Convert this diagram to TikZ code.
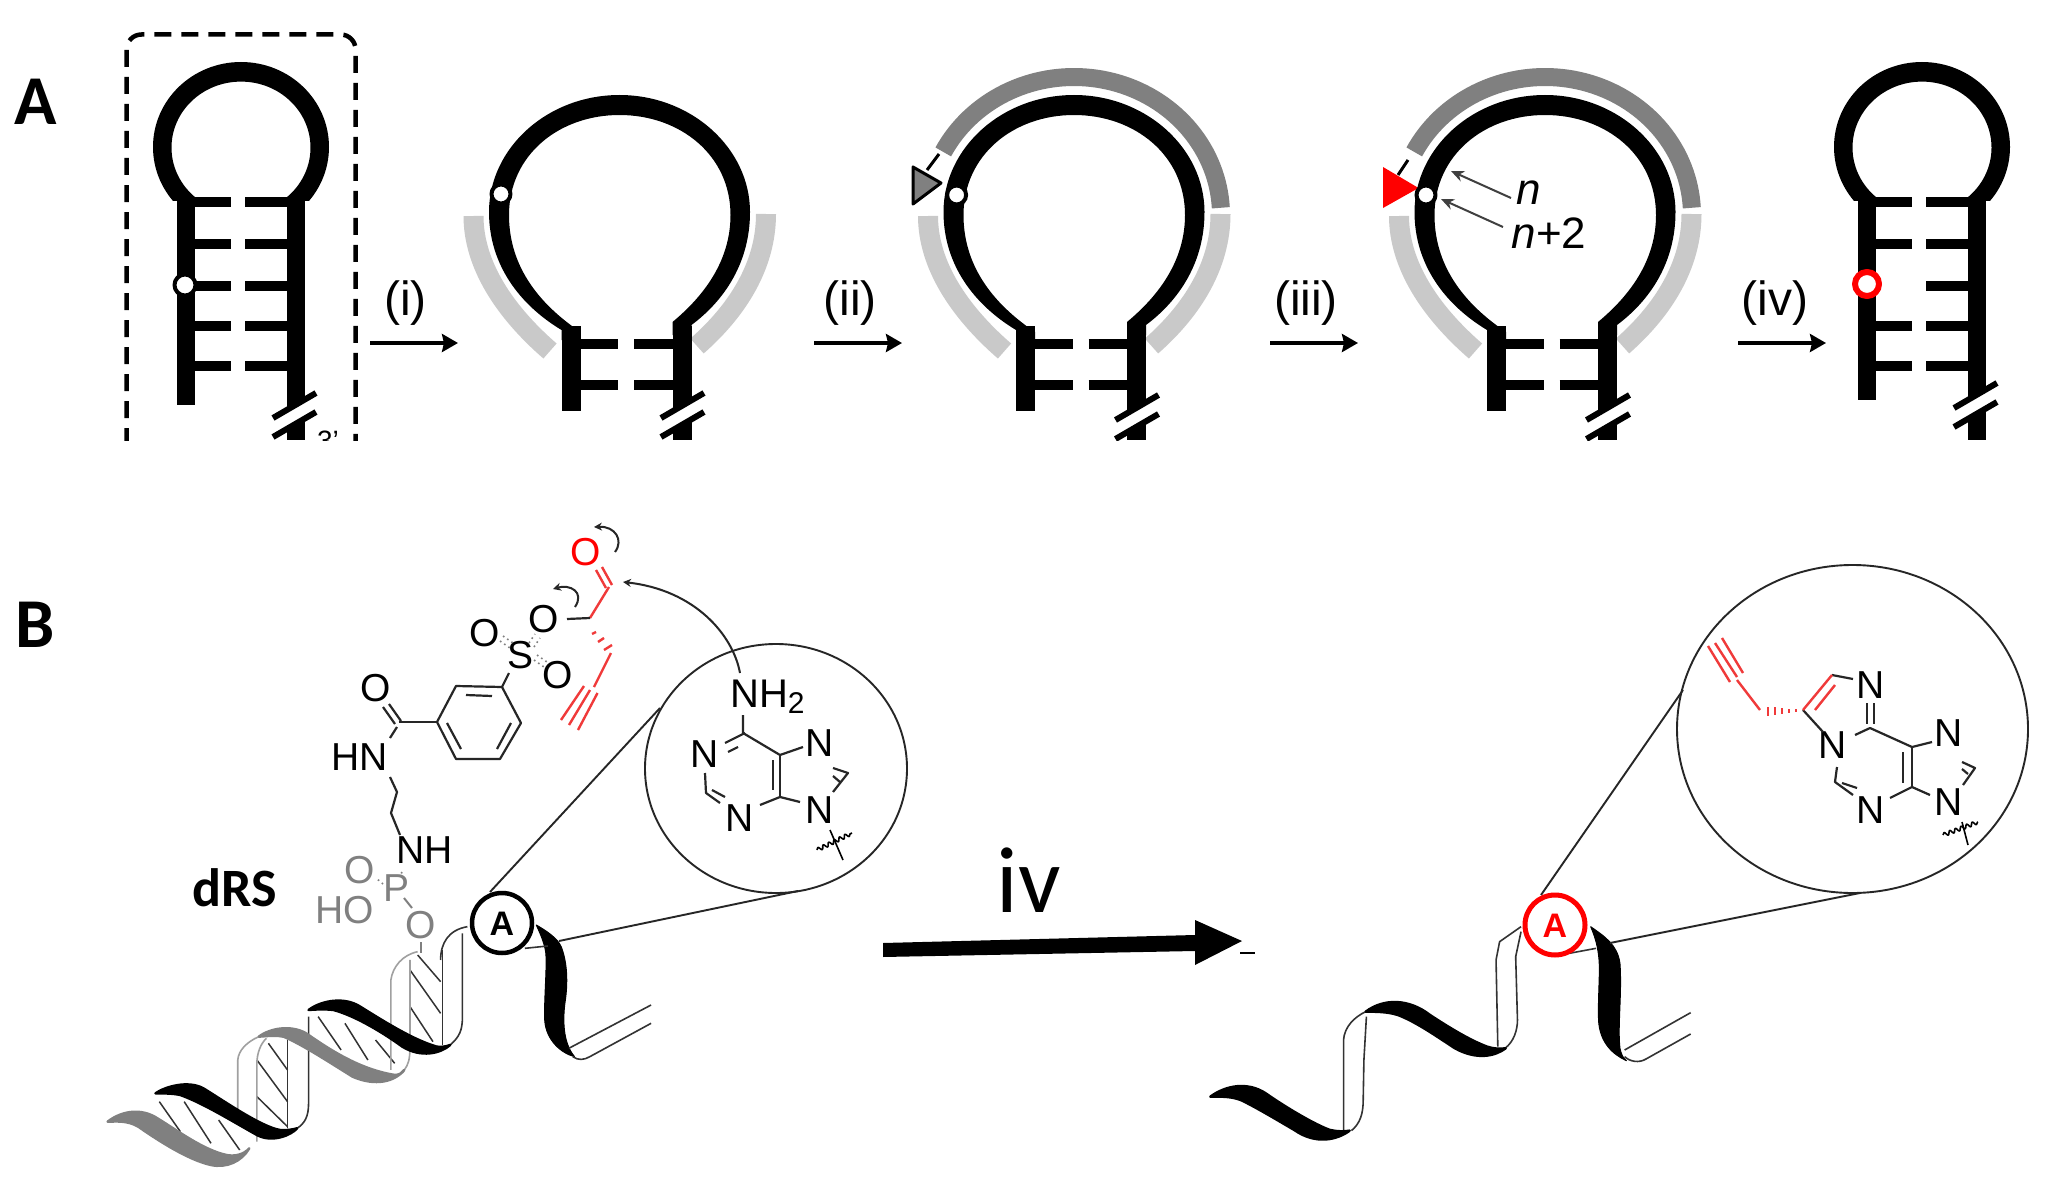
\documentclass[tikz,border=0pt]{standalone}
\usepackage{fontspec}
\setmainfont{Liberation Sans}
\newfontfamily\carlitofont{Carlito}
\usetikzlibrary{arrows.meta,decorations.pathmorphing}
\definecolor{palegray}{HTML}{C9C9C9}
\definecolor{darkgray2}{HTML}{808080}
\definecolor{strandgray}{HTML}{A0A0A0}
\definecolor{chemred}{HTML}{F03A3A}
\newcommand{\fsz}[1]{\fontsize{#1}{#1}\selectfont}
% small hairpin drawn at the position of the first one
\newcommand{\smallhp}{%
  \begin{scope}
    \clip (140,40) rectangle (340,200);
    \fill[even odd rule] (241,147) ellipse [x radius=88pt,y radius=85pt]
                         (241,147.6) ellipse [x radius=69.5pt,y radius=66pt];
  \end{scope}
  \fill (177,198) rectangle (195,405);
  \fill (287,198) rectangle (305,440);
  \foreach \yy in {202,244,326,366}{\draw[rung] (190,\yy) -- (231,\yy); \draw[rung] (245,\yy) -- (292,\yy);}
  \draw[rung] (245,286) -- (292,286);
}
% large hairpin drawn at the position of the second one
\newcommand{\largehp}{%
  \fill (561.5,330) .. controls (520,305) and (489,265) .. (489,212)
     .. controls (489,148) and (547.5,95) .. (619.5,95)
     .. controls (691,95) and (750,148) .. (750,212)
     .. controls (750,262) and (725,300) .. (691.5,325)
     -- (691.5,335) -- (672.5,335) -- (672.5,322)
     .. controls (705,295) and (730.5,260) .. (730.5,215)
     .. controls (730.5,155) and (680,115) .. (619.5,115)
     .. controls (559,115) and (509,155) .. (509,215)
     .. controls (509,258) and (530,298) .. (580.5,332) -- (580.5,340) -- (561.5,340) -- cycle;
  \fill (561.5,326) rectangle (580.5,411);
  \fill (672.5,326) rectangle (691.5,440);
  \foreach \yy in {344,385}{\draw[rung] (578,\yy) -- (618,\yy); \draw[rung] (634,\yy) -- (675,\yy);}
}
\newcommand{\palearcs}{%
  \draw[palearc] (473.5,216) .. controls (473.5,265) and (505,312) .. (550,351);
  \draw[palearc] (766,214) .. controls (766,265) and (738,310) .. (697,346);
}
% break mark: two slashes with a white gap, given at the first position
\newcommand{\breakmark}{%
  \draw[line width=13pt,white] (273,427) -- (316,402);
  \draw[line width=6pt] (273,418) -- (316,393);
  \draw[line width=6pt] (273,437) -- (316,412);
}
\newcommand{\darkarc}{%
  \draw[line width=18pt,darkgray2] plot[domain=-3:-152.8,samples=70] ({1074+147*cos(\x)},{215+138*sin(\x)});
}
\begin{document}
\begin{tikzpicture}[x=1pt,y=-1pt,line join=round,
  rung/.style={line width=9.5pt},
  palearc/.style={line width=20pt,palegray},
  stepa/.style={line width=4pt,-{Stealth[length=16pt,width=18pt,inset=2pt]}},
  steplab/.style={inner sep=0pt,font=\fsz{48}},
  panel/.style={inner sep=0pt,font=\carlitofont\bfseries\fsz{70}},
  bond/.style={line width=2.2pt,black!85},
  redbond/.style={line width=2.4pt,chemred},
  dots/.style={line width=1.6pt,dash pattern=on 1.6pt off 3.5pt,darkgray2},
  atm/.style={inner sep=0pt,font=\fsz{39}},
  grayatm/.style={atm,text=darkgray2},
  lens/.style={line width=1.9pt,black!85},
  thin strand/.style={line width=1.6pt,black!80},
  gray strand/.style={line width=1.6pt,strandgray},
  hatch/.style={line width=1.5pt,black!80},
  ribbon/.style={line width=2.5pt,draw=black,fill=black},
  gray ribbon/.style={line width=2.5pt,draw=darkgray2,fill=darkgray2},
  wavy/.style={line width=1.6pt,decorate,decoration={snake,amplitude=2pt,segment length=6pt}},
  curvy/.style={line width=2pt,black!85,-{Stealth[length=8pt,width=8pt]}},
  ring/.style={fill=white,draw=black,line width=4pt}]
\useasboundingbox (0,0) rectangle (2046,1180);
\fill[white] (0,0) rectangle (2046,1180);

% ---------- panel A ----------
\node[panel] (labA) at (36,102) {A};
\begin{scope}
\clip (0,0) rectangle (2046,440);
\draw[line width=4.5pt,dash pattern=on 17pt off 10pt,rounded corners=15pt]
   (126.5,445) -- (126.5,34.5) -- (355.6,34.5) -- (355.6,445);
\node[inner sep=0pt,anchor=north,font=\fsz{28}] (tail) at (328,431) {3'};
% hairpin 1
\smallhp
\draw[rung] (190,286) -- (231,286);
\breakmark
\draw[ring] (185,285) circle[radius=10.5pt];
% hairpin 2
\palearcs
\largehp
\begin{scope}[shift={(388,0)}]\breakmark\end{scope}
\draw[ring] (501,194) circle[radius=9.5pt];
% hairpin 3
\begin{scope}[shift={(454.5,0)}]
  \palearcs \largehp
  \begin{scope}[shift={(388,2)}]\breakmark\end{scope}
\end{scope}
\darkarc
\draw[line width=3pt] (939,154) -- (927,170);
\draw[line width=3pt,fill=darkgray2] (913,167) -- (941,183) -- (913,204) -- cycle;
\draw[ring] (956.6,195) circle[radius=9.5pt];
% hairpin 4
\begin{scope}[shift={(925.5,0)}]
  \palearcs \largehp
  \begin{scope}[shift={(388,2)}]\breakmark\end{scope}
\end{scope}
\begin{scope}[shift={(471,0)}]\darkarc\end{scope}
\draw[line width=3pt] (1408,160) -- (1398,175);
\fill[red] (1383,167) -- (1418.5,188) -- (1383,208) -- cycle;
\draw[ring] (1426,195) circle[radius=9.5pt];
\draw[line width=2pt,black!75,-{Stealth[length=13pt,width=11pt]}] (1511,198) -- (1451,171);
\draw[line width=2pt,black!75,-{Stealth[length=13pt,width=11pt]}] (1503,227) -- (1441,199);
\node[inner sep=0pt,font=\fsz{44}\itshape] (labn) at (1529,193) {n};
\node[inner sep=0pt,font=\fsz{44}] (labn2) at (1549,233) {\textit{n}+2};
% hairpin 5
\begin{scope}[shift={(1681,0)}]
  \smallhp
  \fill[white] (177,400) rectangle (195,406);
  \begin{scope}[shift={(0,-10)}]\breakmark\end{scope}
\end{scope}
\draw[white,fill=white] (1867,284) circle[radius=10pt];
\draw[red,line width=6pt,fill=white] (1867,284) circle[radius=12pt];
\end{scope}
% step arrows
\draw[stepa] (370,343) -- (458,343);
\node[steplab] (s1) at (405.6,303) {(i)};
\draw[stepa] (814,343) -- (902,343);
\node[steplab] (s2) at (850,303) {(ii)};
\draw[stepa] (1270,343) -- (1358,343);
\node[steplab] (s3) at (1306,303) {(iii)};
\draw[stepa] (1738,343) -- (1826,343);
\node[steplab] (s4) at (1775,303) {(iv)};

% ---------- panel B labels ----------
\node[panel] (labB) at (35,625) {B};
\node[inner sep=0pt,font=\carlitofont\bfseries\fsz{54}] (drs) at (235,888) {dRS};
\node[inner sep=0pt,font=\carlitofont\fsz{94}] (iv) at (1029,880) {iv};

% big arrow
\fill (883,943) -- (1195,935) -- (1195,920) -- (1242,941) -- (1195,965) -- (1195,951) -- (883,957) -- cycle;
\draw[line width=2pt] (1240,953) -- (1255,953);

% ---------- helix 1 (coordinates of the enlarged crop) ----------
\begin{scope}[shift={(100,860)},x=0.3827pt,y=-0.3333pt]
 % hatches
 \foreach \a/\b/\c/\d in {155/725/210/815,220/725/290/850,310/780/365/870,410/600/490/725,410/710/490/800,440/550/490/630,570/470/630/570,640/490/700/600,720/540/770/610,810/330/890/460,810/440/870/545,830/285/890/365}
   \draw[hatch] (\a,\b) -- (\c,\d);
 % strands
 \draw[gray strand] (360,780) -- (360,600) .. controls (362,570) and (385,545) .. (415,530);
 \draw[gray strand] (410,845) -- (410,610) .. controls (410,580) and (420,550) .. (435,535);
 \draw[thin strand] (490,805) -- (490,540);
 \draw[thin strand] (515,805) .. controls (535,790) and (545,770) .. (545,730) -- (545,470);
 \draw[gray strand] (760,630) -- (760,360) .. controls (765,320) and (790,285) .. (830,275);
 \draw[gray strand] (795,630) .. controls (805,615) and (810,600) .. (810,560) -- (810,300);
 \draw[thin strand] (895,555) -- (895,270);
 \draw[thin strand] (890,300) .. controls (890,250) and (910,210) .. (960,200);
 \draw[thin strand] (915,555) .. controls (940,530) and (947,510) .. (947,470) -- (947,220);
 % ribbons
 \path[gray ribbon] (20,785) .. controls (60,750) and (110,745) .. (150,775) .. controls (200,810) and (270,870) .. (330,885) .. controls (350,890) and (375,885) .. (390,865) .. controls (370,905) and (330,925) .. (290,915) .. controls (230,900) and (150,840) .. (100,800) .. controls (70,780) and (40,785) .. (20,785) -- cycle;
 \path[ribbon] (145,700) .. controls (170,680) and (230,660) .. (270,685) .. controls (320,720) and (420,800) .. (470,810) .. controls (490,812) and (505,808) .. (515,805) .. controls (500,825) and (450,850) .. (410,825) .. controls (340,780) and (270,730) .. (210,705) .. controls (190,700) and (165,700) .. (145,700) -- cycle;
 \path[gray ribbon] (415,530) .. controls (450,500) and (510,495) .. (545,525) .. controls (620,585) and (690,630) .. (770,645) .. controls (780,645) and (790,640) .. (795,630) .. controls (770,665) and (720,680) .. (660,650) .. controls (590,600) and (530,555) .. (480,530) .. controls (460,525) and (440,528) .. (415,530) -- cycle;
 \path[ribbon] (545,450) .. controls (580,420) and (640,410) .. (680,440) .. controls (750,490) and (820,540) .. (880,560) .. controls (890,562) and (905,560) .. (915,555) .. controls (890,580) and (840,595) .. (790,560) .. controls (730,510) and (660,465) .. (610,450) .. controls (590,447) and (565,448) .. (545,450) -- cycle;
 \path[ribbon,line width=1pt] (1140,195) .. controls (1170,215) and (1195,235) .. (1205,260) .. controls (1222,310) and (1222,370) .. (1216,420) .. controls (1208,480) and (1210,550) .. (1240,590) .. controls (1205,580) and (1165,540) .. (1162,480) .. controls (1160,420) and (1168,330) .. (1165,280) .. controls (1162,250) and (1150,220) .. (1140,195) -- cycle;
 \draw[thin strand] (1110,265) -- (1170,258);
 \draw[thin strand] (1225,565) -- (1440,435);
 \draw[thin strand] (1235,590) .. controls (1250,602) and (1265,600) .. (1280,590) -- (1440,490);
\end{scope}

% ---------- lens 1 ----------
\draw[lens] (776,768.5) ellipse [x radius=131pt,y radius=124.5pt];
\draw[lens] (490,892) -- (660,708);
\draw[lens] (559,941) -- (798,891);

% A circle 1
\draw[line width=4.5pt,fill=white] (502,923) circle[radius=30pt];
\node[inner sep=0pt,font=\bfseries\fsz{34}] (a1) at (502,924) {A};

% ---------- tagged reagent ----------
\node[atm,text=red] (oRed) at (586,552) {O};
\node[atm] (oEst) at (544,619) {O};
\node[atm] (sAtm) at (521,655) {S};
\node[atm] (oSa) at (485,633) {O};
\node[atm] (oSb) at (558,675) {O};
\node[atm] (oAm) at (375.5,688) {O};
\node[atm] (hn) at (359.5,757) {HN};
\node[atm] (nh) at (424.5,850) {NH};
\node[grayatm] (pAtm) at (396.6,888) {P};
\node[grayatm] (oPa) at (360,870) {O};
\node[grayatm] (ho) at (345,910) {HO};
\node[grayatm] (oPb) at (420.7,925) {O};

\draw[redbond] (596,570) -- (606,588);
\draw[redbond] (602,567) -- (612,585);
\draw[redbond] (609,587) -- (590,618);
\draw[bond] (567,619) -- (590,618);
\draw[redbond] (592,634) -- (596,632) (598,642) -- (604,638) (604,650) -- (612,645);
\draw[redbond] (611,653) -- (594,687);
\draw[redbond] (584,686) -- (561,720) (590,690) -- (569,725) (597.5,693) -- (578,730);
\draw[dots] (500,641) -- (510,648) (503,636) -- (513,643);
\draw[dots] (529,643) -- (535,634) (534,647) -- (540,638);
\draw[dots] (534,660) -- (544,667) (537,655) -- (547,662);
\draw[bond] (509,673) -- (502,687);
\draw[bond] (502,687) -- (456,686) -- (437,722) -- (456,759) -- (500,759) -- (521,723) -- cycle;
\draw[bond] (466,695) -- (492,696) (447,723) -- (461,749) (511,723) -- (497,749);
\draw[bond] (398.5,722) -- (437,722);
\draw[bond] (383,707) -- (395,724) (389,704) -- (401,721);
\draw[bond] (397,727) -- (390,738);
\draw[bond] (390,777) -- (397,792) -- (391,813) -- (400,835);
\draw[dots] (383,884) -- (376,878);
\draw[dots] (402,872) -- (400,876);
\draw[line width=2pt,darkgray2] (404,898) -- (412,908);
\draw[line width=2pt,darkgray2] (420.7,942) -- (420.7,953);
\draw[curvy] (615,552) .. controls (624,540) and (615,526) .. (594,527);
\draw[curvy] (575,607) .. controls (585,592) and (570,584) .. (553,589);
\draw[curvy] (740,673) .. controls (733,635) and (695,590) .. (623,582);

% ---------- adenine 1 ----------
\node[atm,anchor=west] (nh2) at (730,697) {\fsz{40}NH\raisebox{-6pt}{\fsz{30}2}};
\node[atm] (na1) at (705,754) {N};
\node[atm] (na3) at (740,818) {N};
\node[atm] (na7) at (820,743) {N};
\node[atm] (na9) at (820,810) {N};
\draw[bond] (743,715) -- (743,733) (745,733) -- (725,743) (738,747) -- (728,752);
\draw[bond] (743,733) -- (780,755) -- (803,747);
\draw[bond] (780,755) -- (780,797) (773,760) -- (773,790);
\draw[bond] (780,797) -- (760,805) (780,797) -- (800,802);
\draw[bond] (705,773) -- (706,793) -- (720,803) (712,790) -- (725,797);
\draw[bond] (833,768) -- (848,773) -- (833,792) (833,776) -- (840,782);
\draw[wavy] (817,850) -- (852,833);
\draw[line width=1.6pt] (830,830) -- (843,860);

% ---------- helix 2 ----------
\begin{scope}[shift={(1180,860)},x=0.3571pt,y=-0.3333pt]
 \draw[thin strand] (458,810) -- (458,540) .. controls (460,500) and (490,470) .. (520,455);
 \draw[thin strand] (480,812) .. controls (505,790) and (513,760) .. (513,720) -- (515,600) -- (522,470);
 \draw[thin strand] (890,560) -- (885,300) -- (895,245) -- (955,200);
 \draw[thin strand] (910,565) .. controls (935,545) and (945,510) .. (945,480) -- (940,290) -- (955,215);
 \path[ribbon] (85,710) .. controls (130,675) and (190,665) .. (240,700) .. controls (300,745) and (380,795) .. (420,810) .. controls (440,815) and (460,815) .. (475,812) .. controls (440,840) and (380,855) .. (320,810) .. controls (280,785) and (210,740) .. (170,720) .. controls (140,708) and (110,710) .. (85,710) -- cycle;
 \path[ribbon] (520,455) .. controls (570,415) and (640,415) .. (700,465) .. controls (750,500) and (810,540) .. (860,560) .. controls (880,567) and (895,567) .. (912,565) .. controls (880,590) and (830,600) .. (770,565) .. controls (720,530) and (660,485) .. (610,465) .. controls (580,455) and (550,455) .. (520,455) -- cycle;
 \path[ribbon,line width=1pt] (1150,200) .. controls (1190,230) and (1225,255) .. (1232,310) .. controls (1238,400) and (1225,500) .. (1232,565) .. controls (1235,580) and (1240,595) .. (1250,602) .. controls (1215,585) and (1175,550) .. (1172,480) .. controls (1170,400) and (1178,330) .. (1172,285) .. controls (1168,250) and (1160,225) .. (1150,200) -- cycle;
 \draw[thin strand] (1090,280) -- (1165,265);
 \draw[thin strand] (1245,570) -- (1430,458);
 \draw[thin strand] (1245,590) .. controls (1260,605) and (1285,610) .. (1305,597) -- (1430,522);
\end{scope}

% ---------- lens 2 ----------
\draw[lens] (1852.5,729) ellipse [x radius=175.5pt,y radius=164pt];
\draw[lens] (1541,895) -- (1683,690);
\draw[lens] (1610,943) -- (1860,893);
\draw[red,line width=5pt,fill=white] (1555,925) circle[radius=30pt];
\node[inner sep=0pt,text=red,font=\bfseries\fsz{34}] (a2) at (1555,926) {A};

% ---------- modified adenine ----------
\node[atm] (nb1) at (1871,685) {N};
\node[atm] (nb2) at (1833,745) {N};
\node[atm] (nb3) at (1871,810) {N};
\node[atm] (nb7) at (1949,733) {N};
\node[atm] (nb9) at (1949,802) {N};
\draw[bond] (1867,703) -- (1867,724) (1874,703) -- (1874,724);
\draw[bond] (1855,735) -- (1870,728) -- (1912,747) -- (1932,742);
\draw[bond] (1912,747) -- (1912,787) (1903,752) -- (1903,783);
\draw[bond] (1890,798) -- (1912,787) -- (1930,795);
\draw[bond] (1837,767) -- (1835,782) -- (1853,795) (1842,783) -- (1857,788);
\draw[bond] (1962,762) -- (1975,768) -- (1963,785) (1962,769) -- (1968,774);
\draw[bond] (1853,679) -- (1832,675);
\draw[bond] (1803,710) -- (1823,732);
\draw[redbond] (1832,675) -- (1803,710) (1835,685) -- (1815,710);
\draw[redbond] (1768,707) -- (1768,716) (1775,707) -- (1775,715) (1782,708) -- (1782,714) (1789,709) -- (1789,713) (1796,709) -- (1796,712);
\draw[redbond] (1760,710) -- (1737,680);
\draw[redbond] (1708,646) -- (1730,682) (1715,643) -- (1737,677) (1722,638) -- (1743,673);
\draw[wavy] (1943,835) -- (1978,822);
\draw[line width=1.6pt] (1962,822) -- (1968,845);
\end{tikzpicture}
\end{document}
